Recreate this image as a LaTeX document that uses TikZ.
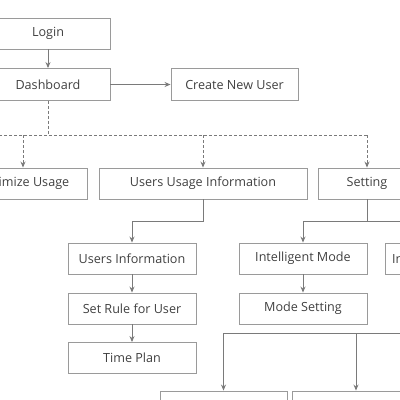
\documentclass[tikz,border=0pt]{standalone}
\usepackage{fontspec}
\setmainfont{Open Sans}
\usetikzlibrary{arrows.meta}
\definecolor{boxc}{HTML}{9A9A9A}
\definecolor{linec}{HTML}{7A7A7A}
\definecolor{txtc}{HTML}{404040}
\tikzset{
  box/.style={draw=boxc, line width=0.9pt, rectangle, minimum height=31pt, text=txtc, font=\fontsize{12.6}{15}\selectfont, inner sep=0pt},
  conn/.style={draw=linec, line width=0.9pt, -{Stealth[length=6pt,width=5pt]}},
  dconn/.style={conn, dashed, dash pattern=on 3pt off 2pt}
}
\begin{document}
\begin{tikzpicture}[x=1pt,y=-1pt]
\useasboundingbox (0,0) rectangle (400,400);
\node[box, minimum width=124pt] (login) at (48,33.5) {Login};
\node[box, minimum width=124pt, minimum height=32pt] (dash) at (48,84.5) {Dashboard};
\node[box, minimum width=127pt, minimum height=32pt] (create) at (234.5,84.5) {Create New User};
\node[box, minimum width=128pt] (opt) at (23,183.5) {Optimize Usage};
\node[box, minimum width=208pt] (uui) at (203,183.5) {Users Usage Information};
\node[box, minimum width=98pt] (set) at (367,183.5) {Setting};
\node[box, minimum width=128pt] (ui) at (132,258.5) {Users Information};
\node[box, minimum width=128pt] (rule) at (132,308.5) {Set Rule for User};
\node[box, minimum width=128pt] (tp) at (132,358) {Time Plan};
\node[box, minimum width=128pt] (im) at (303,258.5) {Intelligent Mode};
\node[box, minimum width=128pt] (ms) at (303,308.5) {Mode Setting};
\node[box, minimum width=128pt, anchor=west] (im2) at (385,258.5) {};
\node[text=txtc, font=\fontsize{12.6}{15}\selectfont, anchor=west, inner sep=0pt] (im2t) at (392,258.5) {Individual Mode};
\node[box, minimum width=127pt] (b1) at (223.5,406.5) {};
\node[box, minimum width=128pt] (b2) at (356,406.5) {};
\coordinate (dl) at (-20,135);
\coordinate (dr) at (420,333);
\coordinate (sr) at (420,221);
% connectors
\draw[conn] (login) -- (dash);
\draw[conn] (dash) -- (create);
\draw[draw=linec, line width=0.9pt, dashed, dash pattern=on 3pt off 2pt] (dash.south) |- (dl);
\draw[draw=linec, line width=0.9pt, dashed, dash pattern=on 3pt off 2pt] (dash.south) |- (367,135);
\draw[dconn] (23,135) -- (opt.north);
\draw[dconn] (203,135) -- (uui.north);
\draw[dconn] (367,135) -- (set.north);
\draw[conn] (uui.south) |- (132,221) -- (ui.north);
\draw[conn] (ui) -- (rule);
\draw[conn] (rule) -- (tp);
\draw[conn] (set.south) |- (303,221) -- (im.north);
\draw[draw=linec, line width=0.9pt] (367,221) -- (sr);
\draw[conn] (im) -- (ms);
\draw[conn] (dr) -| (b1.north);
\draw[conn] (356,333) -- (b2.north);
\end{tikzpicture}
\end{document}
